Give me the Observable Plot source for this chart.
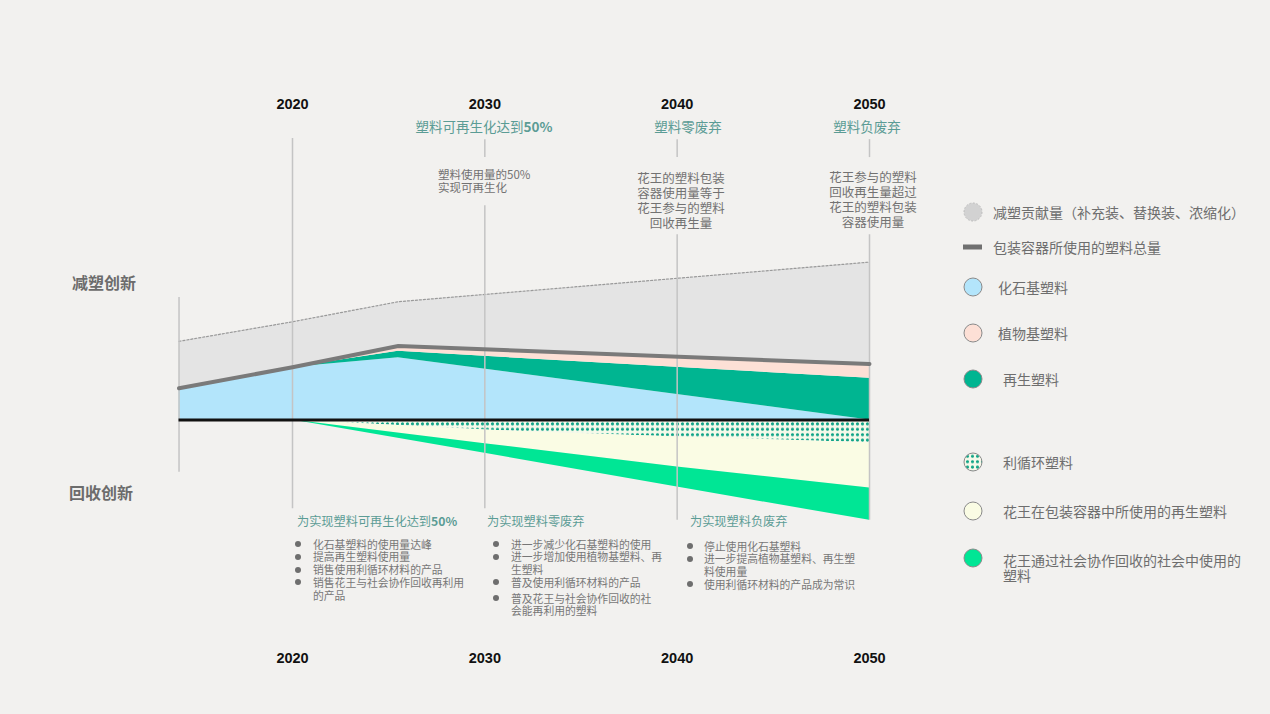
<!DOCTYPE html>
<html><head><meta charset="utf-8">
<script src="https://cdn.jsdelivr.net/npm/d3@7"></script>
<script src="https://cdn.jsdelivr.net/npm/@observablehq/plot@0.6"></script>
<style>
body{margin:0;background:#f2f1ef;}
#wrap{position:relative;width:1270px;height:714px;overflow:hidden;font-family:"Noto Sans CJK SC","Noto Sans",sans-serif;color:#727272;}
#wrap > svg.plotsvg{position:absolute;left:0;top:0;}
.t{position:absolute;white-space:nowrap;}
.side{font-size:16px;font-weight:bold;line-height:20px;color:#6c6c6c;}
.head{font-size:13.5px;line-height:18px;color:#5b9c95;text-align:center;width:220px;}
.desc{font-size:12.5px;line-height:15px;color:#727272;text-align:center;width:160px;}
.bhead{font-size:12.2px;line-height:16px;color:#5b9c95;}
.list{position:absolute;font-size:10.8px;line-height:12.8px;color:#777;}
.li{position:relative;padding-left:18px;white-space:nowrap;}
.li::before{content:"";position:absolute;left:0;top:3.5px;width:6px;height:6px;border-radius:50%;background:#6e6e6e;}
.leg{font-size:14px;line-height:15px;color:#6e6e6e;}
</style></head>
<body><div id="wrap"></div>
<script>
// ---------- data ----------
const tickYears = [2020, 2030, 2040, 2050];
const upperYears = [2014.1, 2020, 2025.5, 2050];
const fossil = [60, 100, 118, 0];          // 化石基塑料
const recycled = [0, 0, 12, 79];           // 再生塑料
const plantBased = [0, 0, 10, 27];         // 植物基塑料
const totalPlastic = [60, 100, 140, 106];  // 包装容器所使用的塑料总量
const reductionTop = [149, 186, 224, 299]; // 减塑贡献量 upper edge
const lowerYears = [2020, 2030, 2040, 2050];
const circulation = [0, 19, 32, 43];       // 利循环塑料
const kaoRecycled = [0, 26, 57, 86];       // 花王在包装容器中所使用的再生塑料
const socialRecycled = [0, 18, 38, 61];    // 花王通过社会协作回收的社会中使用的塑料

const upperNames = ["化石基塑料", "再生塑料", "植物基塑料"];
const lowerNames = ["利循环塑料", "花王在包装容器中所使用的再生塑料", "花王通过社会协作回收的社会中使用的塑料"];
const colors = {
  "化石基塑料": "#b3e5fb", "再生塑料": "#00b591", "植物基塑料": "#fde0d6",
  "利循环塑料": "url(#dots)", "花王在包装容器中所使用的再生塑料": "#fafce4",
  "花王通过社会协作回收的社会中使用的塑料": "#00e695"
};
const milestoneTitles = ["塑料可再生化达到50%", "塑料零废弃", "塑料负废弃"];
const milestoneDescs = [["塑料使用量的50%", "实现可再生化"],
  ["花王的塑料包装", "容器使用量等于", "花王参与的塑料", "回收再生量"],
  ["花王参与的塑料", "回收再生量超过", "花王的塑料包装", "容器使用量"]];
const actionTitles = ["为实现塑料可再生化达到50%", "为实现塑料零废弃", "为实现塑料负废弃"];
const actionItems = [
  [["化石基塑料的使用量达峰"], ["提高再生塑料使用量"], ["销售使用利循环材料的产品"], ["销售花王与社会协作回收再利用", "的产品"]],
  [["进一步减少化石基塑料的使用"], ["进一步增加使用植物基塑料、再", "生塑料"], ["普及使用利循环材料的产品"], ["普及花王与社会协作回收的社", "会能再利用的塑料"]],
  [["停止使用化石基塑料"], ["进一步提高植物基塑料、再生塑", "料使用量"], ["使用利循环材料的产品成为常识"]]
];
const legendLabels = ["减塑贡献量（补充装、替换装、浓缩化）", "包装容器所使用的塑料总量", "化石基塑料", "植物基塑料", "再生塑料",
  "利循环塑料", "花王在包装容器中所使用的再生塑料", "花王通过社会协作回收的社会中使用的塑料"];
// guide line segments (year, from, to) in value units
const guides = [
  {year: 2014.1, y1: 232, y2: -99},
  {year: 2020, y1: 533, y2: -168},
  {year: 2030, y1: 531, y2: 497}, {year: 2030, y1: 406, y2: -168},
  {year: 2040, y1: 531, y2: 497}, {year: 2040, y1: 351, y2: -190},
  {year: 2050, y1: 531, y2: 497}, {year: 2050, y1: 351, y2: -190}
];

// ---------- tables ----------
const upperSeries = [fossil, recycled, plantBased];
const upperTable = upperNames.flatMap((n, i) => upperYears.map((yr, j) => ({series: n, year: yr, value: upperSeries[i][j]})));
const lowerSeries = [circulation, kaoRecycled, socialRecycled];
const lowerTable = lowerNames.flatMap((n, i) => lowerYears.map((yr, j) => ({series: n, year: yr, value: -lowerSeries[i][j]})));
const envelope = upperYears.map((yr, j) => ({year: yr, total: totalPlastic[j], top: reductionTop[j]}));

const k = 0.528, y0 = 419.5;
const svg = Plot.plot({
  width: 1270, height: 714,
  marginTop: 108, marginBottom: 62, marginLeft: 0, marginRight: 0,
  style: {background: "transparent", fontFamily: "'Liberation Sans', Arial, sans-serif", fontSize: "14.5px", fontWeight: "bold", color: "#111", overflow: "visible"},
  x: {domain: [2020, 2050], range: [292, 869], axis: "both", ticks: tickYears, tickFormat: d => String(d), tickSize: 0, tickPadding: 0, label: null},
  y: {domain: [-400, 400], range: [y0 + 400 * k, y0 - 400 * k], axis: null},
  color: {domain: Object.keys(colors), range: Object.values(colors)},
  marks: [
    Plot.areaY(envelope, {x: "year", y1: "total", y2: "top", fill: "#e4e4e4"}),
    Plot.lineY(envelope, {x: "year", y: "top", stroke: "#9a9a9a", strokeWidth: 1.2, strokeDasharray: "2,2"}),
    Plot.areaY(upperTable, Plot.stackY({x: "year", y: "value", z: "series", fill: "series"})),
    Plot.areaY(lowerTable, Plot.stackY({x: "year", y: "value", z: "series", fill: "series"})),
    Plot.ruleX(guides, {x: "year", y1: "y1", y2: "y2", stroke: "#c4c4c4", strokeWidth: 1.5}),
    Plot.lineY(envelope, {x: "year", y: "total", stroke: "#7a7a7a", strokeWidth: 4}),
    Plot.ruleY([0], {x1: 2014.1, x2: 2050, stroke: "#111", strokeWidth: 3})
  ]
});
svg.classList.add("plotsvg");
const defs = d3.select(svg).insert("defs", ":first-child");
const pat = defs.append("pattern").attr("id", "dots").attr("patternUnits", "userSpaceOnUse").attr("width", 5).attr("height", 5.4);
pat.append("rect").attr("width", 5).attr("height", 5.4).attr("fill", "#f6f9ea");
pat.append("circle").attr("cx", 2.5).attr("cy", 2.7).attr("r", 1.6).attr("fill", "#10a487");

const wrap = document.getElementById("wrap");
wrap.appendChild(svg);

function add(cls, left, top, html) {
  const d = document.createElement("div");
  d.className = "t " + cls;
  d.style.left = left + "px"; d.style.top = top + "px";
  d.innerHTML = html;
  wrap.appendChild(d);
  return d;
}
add("side", 72, 272, "减塑创新");
add("side", 69, 482, "回收创新");
const fmt = s => s.replace("50%", "<b>50%</b>");
[484, 688, 867].forEach((cx, i) => add("head", cx - 110, 117, fmt(milestoneTitles[i])));
const dl = add("desc", 438, 167.5, milestoneDescs[0].join("<br>"));
dl.style.textAlign = "left"; dl.style.fontSize = "11.5px"; dl.style.lineHeight = "13px";
add("desc", 681 - 80, 169.5, milestoneDescs[1].join("<br>"));
add("desc", 873 - 80, 168.5, milestoneDescs[2].join("<br>"));
[297, 487, 690].forEach((x, i) => add("bhead", x, 513, fmt(actionTitles[i])));
const listPos = [[295, 537.5], [493, 537.5], [687, 539.5]];
actionItems.forEach((items, i) => {
  const l = document.createElement("div");
  l.className = "list";
  l.style.left = listPos[i][0] + "px"; l.style.top = listPos[i][1] + "px";
  items.forEach((lines, j) => {
    const it = document.createElement("div");
    it.className = "li";
    if (i === 1 && j === 3) it.style.marginTop = "3px";
    if (i === 2) it.style.paddingLeft = "17px";
    it.innerHTML = lines.join("<br>");
    l.appendChild(it);
  });
  wrap.appendChild(l);
});

// legend
const legY = [212, 247, 287, 333, 379, 462, 511, 558];
const legX = [993, 993, 998, 998, 1003, 1003, 1003, 1003];
const legFill = ["#d2d2d2", "#707070", colors["化石基塑料"], colors["植物基塑料"], colors["再生塑料"], "url(#dots)", colors["花王在包装容器中所使用的再生塑料"], colors["花王通过社会协作回收的社会中使用的塑料"]];
const ns = "http://www.w3.org/2000/svg";
const lsvg = document.createElementNS(ns, "svg");
lsvg.setAttribute("width", 1270); lsvg.setAttribute("height", 714);
lsvg.style.position = "absolute"; lsvg.style.left = "0"; lsvg.style.top = "0";
wrap.appendChild(lsvg);
legY.forEach((cy, i) => {
  let el;
  if (i === 1) {
    el = document.createElementNS(ns, "rect");
    el.setAttribute("x", 963); el.setAttribute("y", cy - 2.5); el.setAttribute("width", 19); el.setAttribute("height", 5);
    el.setAttribute("fill", legFill[i]);
  } else {
    el = document.createElementNS(ns, "circle");
    el.setAttribute("cx", 973); el.setAttribute("cy", cy); el.setAttribute("r", 9);
    el.setAttribute("fill", legFill[i]);
    el.setAttribute("stroke", i === 0 ? "#bdbdbd" : "#8a8a8a");
    el.setAttribute("stroke-width", 1);
    if (i === 0) el.setAttribute("stroke-dasharray", "2,1.5");
  }
  lsvg.appendChild(el);
  let label = legendLabels[i];
  if (i === 7) label = "花王通过社会协作回收的社会中使用的<br>塑料";
  add("leg", legX[i], cy - 7.5 + (i === 7 ? 2 : 0), label);
});
</script></body></html>
